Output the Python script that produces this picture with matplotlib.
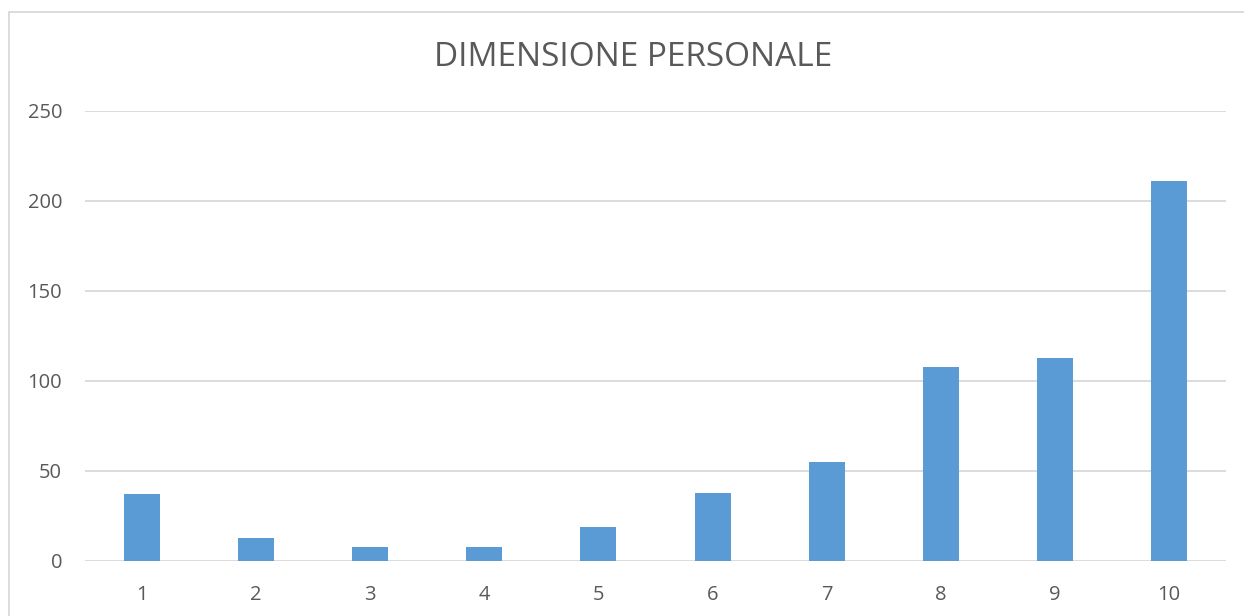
import matplotlib
matplotlib.use("Agg")
import matplotlib.pyplot as plt
from matplotlib.patches import Rectangle

categories = ["1", "2", "3", "4", "5", "6", "7", "8", "9", "10"]
values = [37, 13, 8, 8, 19, 38, 55, 108, 113, 211]
yticks = [0, 50, 100, 150, 200, 250]
title = "DIMENSIONE PERSONALE"

plt.rcParams['font.family'] = ['Open Sans', 'DejaVu Sans']
W, H = 1244, 616
fig = plt.figure(figsize=(W/100, H/100), dpi=100)
ax = fig.add_axes([85/W, 1-561/H, (1226-85)/W, (561-111)/H])

x = list(range(len(categories)))
ax.bar(x, values, width=0.316, color="#5b9bd5", zorder=3)
ax.set_xlim(-0.5, len(categories)-0.5)
ax.set_ylim(0, 250)
ax.set_yticks(yticks)
ax.set_xticks(x)
ax.set_xticklabels(categories)
ax.grid(axis='y', color="#d9d9d9", linewidth=1.3, zorder=0)
for s in ax.spines.values():
    s.set_visible(False)
ax.tick_params(length=0, labelsize=14.5, colors="#595959")
ax.tick_params(axis='x', pad=17)
ax.tick_params(axis='y', pad=16.5)

fig.text((440+826)/2/W, 1-57/H, title, ha='center', va='center', fontsize=24, color="#595959")

fig.patches.append(Rectangle((9/W, -0.1), 1.2, 1-12/H+0.1, transform=fig.transFigure, fill=False, edgecolor="#d9d9d9", linewidth=1.3))

fig.savefig("out.png", dpi=100)
